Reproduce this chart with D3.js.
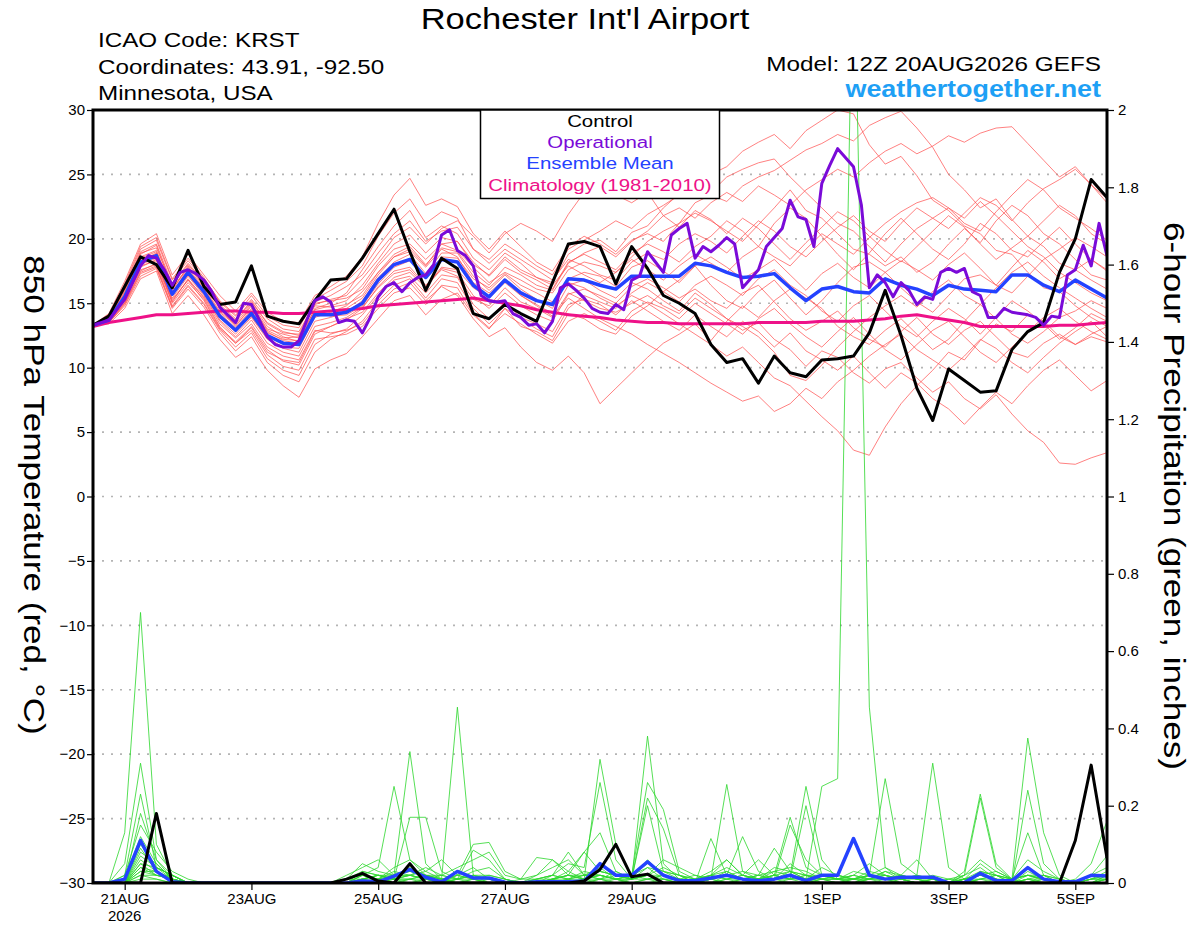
<!DOCTYPE html>
<html>
<head>
<meta charset="utf-8">
<script src="https://cdn.jsdelivr.net/npm/d3@7"></script>
<style>
  body { margin: 0; background: #fff; }
  text { font-family: "Liberation Sans", Arial, Helvetica, sans-serif; }
</style>
</head>
<body>
<svg id="chart" width="1200" height="927"></svg>
<script>
// run start and axis labels
const runStart = Date.UTC(2026, 7, 20, 12);
const tickDates = ["2026-08-21", "2026-08-23", "2026-08-25", "2026-08-27", "2026-08-29", "2026-09-01", "2026-09-03", "2026-09-05"];
const tempTicks = [-30, -25, -20, -15, -10, -5, 0, 5, 10, 15, 20, 25, 30];
const precipTicks = [0, 0.2, 0.4, 0.6, 0.8, 1, 1.2, 1.4, 1.6, 1.8, 2];

// 850 hPa temperature, 6-hourly (65 steps)
const controlTemp = [
  13.3, 14.0, 16.3, 18.6, 18.0, 16.2, 19.1, 16.3, 14.9, 15.1, 17.9, 14.0, 13.6,
  13.4, 15.2, 16.8, 16.9, 18.5, 20.4, 22.3, 19.0, 16.0, 18.5, 17.7, 14.2, 13.8,
  14.9, 14.2, 13.6, 16.6, 19.6, 19.8, 19.4, 16.5, 19.4, 17.7, 15.6, 15.0, 14.2,
  11.8, 10.4, 10.7, 8.8, 10.9, 9.6, 9.3, 10.6, 10.7, 10.9, 12.7, 16.0, 12.5,
  8.4, 5.9, 9.9, 9.0, 8.1, 8.2, 11.4, 12.8, 13.5, 17.4, 20.0, 24.6, 23.2
];
const meanTemp = [
  13.3, 13.7, 15.5, 18.2, 18.7, 15.7, 17.4, 15.9, 14.0, 12.9, 14.2, 12.5, 11.9,
  11.8, 14.1, 14.1, 14.3, 15.0, 16.8, 18.0, 18.4, 17.0, 18.4, 18.2, 16.4, 15.5,
  16.8, 15.8, 15.2, 14.9, 16.9, 16.8, 16.4, 16.1, 17.1, 17.1, 17.1, 17.1, 18.1,
  17.9, 17.4, 17.0, 17.1, 17.3, 16.2, 15.2, 16.1, 16.3, 15.9, 15.8, 16.9, 16.4,
  16.1, 15.6, 16.4, 16.1, 16.0, 15.9, 17.2, 17.2, 16.4, 15.9, 16.8, 16.1, 15.4
];
const climoTemp = [
  13.2, 13.5, 13.7, 13.9, 14.1, 14.1, 14.2, 14.3, 14.4, 14.4, 14.3, 14.3, 14.2,
  14.2, 14.3, 14.4, 14.5, 14.6, 14.8, 14.9, 15.0, 15.1, 15.2, 15.3, 15.4, 15.2,
  15.0, 14.8, 14.5, 14.3, 14.1, 14.0, 13.9, 13.7, 13.6, 13.5, 13.5, 13.4, 13.4,
  13.4, 13.4, 13.4, 13.5, 13.5, 13.5, 13.5, 13.6, 13.6, 13.6, 13.7, 13.8, 14.0,
  14.1, 13.9, 13.7, 13.5, 13.2, 13.2, 13.2, 13.2, 13.2, 13.3, 13.3, 13.4, 13.5
];
// operational run, 3-hourly (129 steps)
const operTemp = [
  13.3, 13.5, 13.7, 14.5, 15.3, 16.6, 17.9, 18.7, 18.5, 17.6, 16.4, 17.4, 17.6,
  17.3, 16.8, 15.9, 14.7, 14.1, 13.5, 15.0, 14.9, 13.7, 12.4, 11.8, 11.6, 11.6,
  12.1, 13.7, 15.2, 15.5, 15.1, 13.5, 13.7, 13.6, 12.7, 13.9, 15.5, 16.3, 16.6,
  15.9, 16.6, 17.0, 17.2, 18.0, 20.3, 20.7, 19.1, 18.7, 17.9, 15.6, 15.2, 15.1,
  15.2, 14.2, 13.9, 13.3, 13.4, 12.7, 13.6, 16.2, 16.5, 16.0, 15.4, 14.6, 14.3,
  14.2, 14.9, 14.5, 16.8, 17.1, 19.0, 18.2, 17.4, 20.3, 20.8, 21.2, 18.5, 19.4,
  19.0, 19.5, 20.1, 19.6, 16.2, 16.9, 17.6, 19.4, 20.1, 20.8, 23.0, 21.7, 21.5,
  19.4, 24.3, 25.7, 27.0, 26.3, 25.6, 22.6, 16.2, 17.2, 16.6, 15.5, 16.6, 16.0,
  14.9, 15.5, 15.3, 17.4, 17.7, 17.4, 17.7, 15.9, 15.6, 13.9, 13.9, 14.6, 14.3,
  14.2, 14.1, 13.9, 13.3, 14.0, 13.9, 17.2, 17.6, 19.5, 17.9, 21.2, 18.7
];
// ensemble members, 6-hourly
const memberTemps = [
  [13.3, 13.9, 16.0, 18.8, 19.5, 16.2, 17.8, 16.5, 14.8, 13.6, 15.0, 13.2, 12.4,
   12.0, 14.6, 15.0, 15.8, 17.6, 19.4, 21.0, 22.2, 20.1, 21.0, 20.4, 18.5, 17.6,
   18.9, 18.1, 17.0, 16.6, 18.8, 19.6, 19.9, 19.0, 20.5, 21.0, 22.4, 23.5, 24.3,
   25.0, 25.6, 26.8, 27.5, 28.1, 27.0, 28.4, 29.2, 30.0, 29.7, 27.3, 25.8, 26.4,
   24.9, 23.0, 22.2, 21.0, 20.4, 19.1, 18.8, 17.4, 16.2, 15.9, 14.8, 13.9, 13.2],
  [13.3, 13.6, 15.1, 17.8, 18.4, 15.0, 16.6, 15.3, 13.2, 11.9, 13.1, 11.2, 10.6,
   10.4, 12.8, 13.2, 13.7, 14.6, 16.3, 17.5, 17.8, 16.4, 17.6, 17.1, 15.3, 14.8,
   16.2, 15.1, 14.6, 13.9, 15.8, 15.2, 14.6, 14.3, 15.0, 15.6, 14.8, 14.2, 15.4,
   14.6, 13.8, 12.9, 13.5, 12.2, 11.4, 10.1, 11.3, 10.8, 9.6, 8.8, 9.9, 10.4,
   9.2, 8.1, 8.9, 7.6, 6.8, 7.9, 6.4, 5.1, 4.2, 2.6, 2.5, 3.0, 3.4],
  [13.3, 14.1, 16.4, 19.2, 19.9, 16.8, 18.3, 16.9, 15.2, 14.1, 15.3, 13.8, 13.0,
   12.8, 15.0, 15.2, 15.4, 16.1, 17.9, 19.2, 19.6, 18.4, 19.6, 19.1, 17.8, 16.6,
   17.4, 16.8, 16.1, 15.8, 17.6, 18.2, 17.9, 17.4, 18.6, 19.8, 20.6, 21.2, 22.8,
   23.4, 22.9, 24.1, 24.8, 25.3, 26.1, 26.9, 27.4, 28.1, 27.6, 28.8, 29.4, 29.9,
   28.6, 27.1, 25.0, 23.8, 22.4, 23.1, 21.5, 20.2, 19.4, 18.1, 17.6, 16.8, 16.1],
  [13.3, 13.4, 14.6, 16.9, 17.5, 14.2, 15.6, 14.1, 12.2, 10.8, 11.6, 9.8, 8.6,
   7.7, 9.9, 10.6, 11.1, 12.4, 13.8, 15.2, 15.6, 14.1, 15.3, 15.8, 14.1, 13.0,
   14.6, 13.2, 12.8, 12.1, 14.2, 13.8, 13.0, 12.6, 14.0, 14.8, 15.9, 16.8, 17.9,
   16.4, 15.2, 14.6, 15.9, 16.8, 15.4, 14.1, 15.2, 16.6, 17.8, 18.2, 17.4, 16.2,
   15.1, 14.3, 15.6, 16.9, 17.2, 16.4, 15.8, 17.1, 18.4, 19.2, 20.1, 19.4, 18.6],
  [13.3, 14.2, 16.7, 19.6, 20.4, 17.2, 18.8, 17.2, 15.6, 14.4, 15.8, 14.3, 13.6,
   13.5, 15.6, 16.3, 17.1, 18.6, 21.2, 23.4, 24.7, 22.6, 23.1, 22.5, 20.4, 19.2,
   20.6, 19.4, 18.2, 17.5, 19.4, 20.2, 19.6, 18.8, 19.9, 20.4, 19.8, 21.2, 22.0,
   21.4, 20.6, 19.8, 21.1, 22.4, 23.8, 22.2, 21.6, 20.4, 19.2, 18.8, 17.9, 18.6,
   17.4, 18.2, 19.6, 20.8, 19.7, 21.4, 22.6, 21.8, 20.4, 19.6, 18.4, 17.2, 16.8],
  [13.3, 13.7, 15.2, 17.6, 18.0, 15.1, 16.9, 15.4, 13.4, 12.3, 13.4, 11.6, 10.9,
   10.6, 12.9, 12.7, 12.9, 13.4, 14.9, 16.1, 16.6, 15.2, 16.3, 15.6, 13.8, 12.4,
   13.1, 11.6, 10.4, 9.8, 10.9, 9.6, 7.2, 8.4, 9.6, 10.8, 11.9, 12.6, 13.4,
   12.1, 13.6, 14.8, 13.9, 15.2, 16.1, 15.4, 14.6, 13.2, 12.4, 11.8, 12.9, 13.8,
   12.6, 11.4, 12.2, 13.6, 14.9, 13.8, 12.6, 11.9, 12.8, 13.9, 14.4, 15.2, 14.6],
  [13.3, 13.8, 15.6, 18.3, 18.9, 15.9, 17.6, 16.1, 14.3, 13.3, 14.6, 12.8, 12.1,
   11.9, 14.4, 14.0, 14.1, 14.8, 16.5, 17.8, 18.3, 17.1, 18.6, 18.5, 16.9, 16.2,
   17.3, 16.4, 15.8, 15.1, 16.6, 16.2, 15.4, 14.8, 15.6, 15.0, 14.2, 13.4, 12.6,
   11.8, 10.9, 11.6, 10.4, 9.2, 8.6, 7.4, 6.2, 5.1, 3.6, 3.2, 5.4, 7.2,
   8.6, 9.8, 11.2, 10.6, 12.1, 13.4, 12.8, 14.1, 13.6, 12.4, 11.8, 12.6, 13.2],
  [13.3, 13.9, 15.9, 18.6, 19.1, 16.0, 17.9, 16.3, 14.6, 13.2, 14.8, 12.9, 12.3,
   12.4, 14.9, 15.3, 15.6, 16.9, 18.4, 20.1, 20.9, 19.6, 20.8, 21.4, 20.2, 18.9,
   20.4, 21.2, 20.6, 19.8, 21.9, 23.6, 24.2, 23.4, 22.8, 23.6, 21.8, 20.9, 22.2,
   21.5, 20.4, 21.6, 20.8, 19.6, 18.4, 19.7, 20.9, 22.1, 21.4, 20.2, 19.1, 18.2,
   19.4, 20.6, 21.8, 20.9, 19.6, 18.4, 19.3, 20.2, 21.4, 22.6, 21.8, 20.4, 19.6],
  [13.3, 13.6, 15.3, 18.0, 18.5, 15.4, 17.1, 15.6, 13.7, 12.6, 13.9, 12.2, 11.5,
   11.2, 13.6, 13.9, 14.3, 15.2, 17.0, 18.2, 18.8, 17.3, 18.9, 18.9, 17.1, 16.0,
   17.2, 16.1, 15.3, 14.6, 16.9, 17.4, 17.1, 16.3, 17.8, 18.3, 17.5, 16.6, 17.9,
   18.6, 17.8, 16.9, 17.6, 18.4, 17.2, 16.0, 17.3, 18.1, 17.0, 16.2, 17.4, 18.3,
   17.6, 16.8, 18.0, 18.9, 17.7, 16.4, 17.8, 19.1, 18.2, 16.9, 17.6, 18.4, 17.5],
  [13.3, 13.5, 14.9, 17.3, 17.8, 14.7, 16.3, 14.9, 12.9, 11.6, 12.7, 10.7, 9.8,
   9.4, 11.8, 12.6, 13.0, 14.1, 15.6, 16.8, 17.1, 15.8, 17.2, 17.0, 14.9, 13.8,
   15.1, 13.9, 13.4, 12.8, 14.9, 15.3, 14.9, 14.1, 15.2, 14.4, 13.6, 12.9, 14.1,
   13.2, 12.4, 13.6, 12.8, 11.6, 12.7, 11.3, 10.6, 9.8, 10.9, 9.6, 8.4, 9.6,
   8.8, 7.6, 6.8, 5.6, 6.9, 8.1, 7.2, 8.6, 9.8, 10.6, 9.4, 8.2, 9.0],
  [13.3, 14.0, 16.2, 19.0, 19.6, 16.5, 18.1, 16.7, 14.9, 13.8, 15.1, 13.5, 12.8,
   12.5, 14.8, 14.7, 14.9, 15.6, 17.4, 18.8, 19.4, 18.0, 19.3, 19.0, 17.4, 16.4,
   17.8, 17.2, 16.4, 16.0, 18.1, 18.9, 19.4, 18.6, 19.8, 20.6, 21.8, 22.4, 21.6,
   22.8, 23.6, 22.9, 24.1, 23.4, 22.6, 23.8, 24.6, 25.4, 24.8, 25.9, 26.8, 27.4,
   26.6, 27.2, 28.0, 27.5, 28.2, 28.6, 28.7, 27.4, 26.1, 24.8, 25.6, 24.2, 23.1],
  [13.3, 13.7, 15.4, 18.1, 18.6, 15.6, 17.2, 15.7, 13.9, 12.8, 14.0, 12.3, 11.6,
   11.5, 13.9, 14.3, 14.8, 15.9, 17.4, 18.6, 19.0, 17.8, 19.2, 18.6, 16.6, 15.8,
   16.9, 15.6, 14.9, 14.2, 16.4, 16.8, 16.0, 15.4, 16.6, 16.1, 15.2, 14.4, 15.8,
   14.9, 13.8, 13.2, 12.4, 11.2, 9.4, 9.0, 10.2, 11.6, 12.8, 13.9, 14.8, 15.6,
   14.7, 15.9, 16.8, 15.6, 14.9, 16.2, 17.4, 18.2, 17.1, 16.2, 15.4, 14.6, 13.9],
  [13.3, 14.0, 16.1, 18.9, 19.3, 16.4, 18.0, 16.6, 14.7, 13.7, 15.2, 13.4, 12.7,
   12.6, 15.1, 15.6, 16.3, 17.2, 18.9, 20.4, 21.4, 19.8, 20.6, 20.9, 19.2, 18.4,
   19.6, 18.8, 17.9, 17.2, 19.2, 19.9, 20.6, 21.4, 20.8, 21.9, 22.6, 23.4, 24.2,
   23.6, 24.8, 25.4, 25.9, 26.2, 24.8, 23.6, 22.4, 21.2, 20.6, 19.4, 18.2, 19.6,
   20.8, 21.6, 22.4, 21.2, 20.6, 22.1, 23.4, 24.6, 23.8, 22.4, 21.6, 20.8, 19.9],
  [13.3, 13.5, 15.0, 17.5, 18.1, 15.3, 16.8, 15.2, 13.1, 12.0, 13.2, 11.4, 10.5,
   10.2, 12.6, 13.2, 13.8, 14.3, 15.8, 17.0, 17.4, 16.2, 17.7, 17.4, 15.6, 14.6,
   15.8, 14.8, 14.1, 13.6, 15.7, 16.1, 15.6, 15.0, 16.3, 16.9, 16.2, 15.4, 16.1,
   15.2, 14.6, 15.8, 16.4, 15.1, 13.8, 12.9, 13.6, 14.4, 13.1, 12.2, 11.6, 12.8,
   13.9, 12.6, 11.8, 12.9, 13.6, 12.4, 11.2, 10.8, 11.9, 12.6, 11.8, 12.4, 12.0],
  [13.3, 14.1, 16.5, 19.4, 20.1, 16.9, 18.5, 17.0, 15.1, 14.0, 15.6, 14.0, 13.3,
   13.1, 15.3, 16.0, 16.7, 17.9, 20.2, 22.0, 23.1, 21.2, 22.1, 21.6, 19.2, 18.1,
   19.2, 18.4, 17.6, 16.8, 18.4, 17.9, 17.2, 16.8, 18.2, 18.9, 18.4, 19.6, 20.4,
   19.8, 18.9, 20.2, 21.4, 20.6, 19.4, 18.6, 19.8, 20.9, 21.8, 20.6, 19.8, 21.2,
   22.4, 21.6, 20.8, 22.0, 23.2, 22.6, 21.4, 22.8, 23.9, 24.6, 25.4, 24.2, 22.8],
  [13.3, 13.6, 15.2, 17.9, 18.3, 15.2, 16.8, 15.5, 13.6, 12.4, 13.7, 11.9, 11.2,
   10.9, 13.2, 13.5, 13.9, 14.7, 16.2, 17.3, 17.6, 16.3, 17.8, 17.6, 16.2, 15.4,
   16.6, 15.6, 14.8, 14.0, 15.4, 14.6, 13.8, 13.2, 12.6, 11.8, 11.1, 10.4, 9.6,
   8.8, 8.1, 7.4, 7.8, 6.6, 7.2, 8.4, 7.6, 8.9, 9.8, 10.9, 11.8, 12.6,
   11.4, 10.6, 9.8, 10.9, 12.2, 11.5, 10.4, 9.6, 10.8, 11.9, 12.8, 13.6, 12.4],
  [13.3, 13.8, 15.7, 18.4, 18.8, 15.8, 17.5, 16.0, 14.2, 13.1, 14.5, 12.7, 12.2,
   12.1, 14.3, 14.4, 14.6, 15.4, 17.2, 18.6, 19.2, 17.9, 19.6, 19.8, 18.2, 17.1,
   18.4, 17.4, 16.8, 16.1, 18.2, 18.8, 18.2, 17.6, 18.9, 19.6, 19.0, 18.2, 19.4,
   20.2, 21.4, 20.6, 19.4, 21.2, 22.4, 21.6, 20.2, 18.8, 17.6, 18.9, 20.4, 21.6,
   20.4, 19.2, 18.4, 19.6, 21.2, 20.4, 19.1, 18.6, 19.8, 20.9, 19.6, 18.4, 17.6],
  [13.3, 13.5, 14.8, 17.1, 17.7, 14.6, 16.1, 14.7, 12.7, 11.3, 12.4, 10.4, 9.4,
   8.9, 11.2, 12.2, 12.8, 13.6, 15.2, 16.4, 16.9, 15.4, 16.9, 16.6, 14.6, 13.4,
   14.6, 13.8, 13.0, 12.4, 14.6, 15.6, 15.1, 14.6, 15.8, 16.6, 15.9, 15.1, 16.4,
   17.1, 16.4, 15.6, 16.9, 17.6, 16.4, 15.6, 14.4, 13.6, 14.8, 15.6, 14.4, 13.2,
   12.4, 13.6, 14.6, 13.8, 12.6, 13.9, 15.2, 14.4, 13.4, 12.2, 13.1, 14.2, 13.6],
  [13.3, 13.9, 15.8, 18.5, 19.0, 16.1, 17.7, 16.2, 14.4, 13.4, 14.9, 13.0, 12.6,
   12.3, 14.5, 14.8, 15.2, 16.4, 18.1, 19.6, 20.3, 18.9, 20.1, 19.8, 18.0, 17.2,
   18.6, 17.6, 17.0, 16.4, 17.9, 17.2, 16.6, 17.4, 18.4, 17.6, 16.8, 17.9, 18.8,
   18.1, 17.4, 18.6, 19.4, 18.6, 17.9, 19.2, 20.4, 19.6, 18.8, 20.1, 21.2, 22.1,
   22.8, 23.2, 22.4, 21.6, 22.9, 21.8, 20.6, 19.4, 18.6, 17.4, 16.6, 15.8, 15.2],
  [13.3, 13.6, 15.0, 17.4, 17.9, 14.8, 16.4, 15.0, 13.0, 11.9, 12.9, 11.0, 10.1,
   9.8, 12.2, 12.4, 12.6, 13.2, 14.6, 15.8, 16.2, 14.9, 16.4, 16.2, 14.2, 13.1,
   14.2, 13.4, 12.6, 11.9, 13.6, 14.2, 13.6, 12.9, 14.4, 15.1, 14.6, 13.8, 15.0,
   14.2, 13.4, 12.6, 13.8, 14.6, 13.4, 12.4, 11.6, 12.8, 13.9, 12.6, 11.4, 10.6,
   11.8, 12.9, 13.6, 12.4, 11.2, 10.4, 11.6, 12.8, 13.9, 14.6, 13.6, 12.8, 12.2]
];

// 6-hour precipitation (inches), 6-hourly
const controlPrecip = [
  0, 0, 0, 0, 0.18, 0, 0, 0, 0, 0, 0, 0, 0,
  0, 0, 0, 0.01, 0.025, 0.005, 0, 0.05, 0, 0, 0, 0, 0,
  0, 0, 0, 0, 0, 0.005, 0.035, 0.10, 0.016, 0.023, 0, 0, 0,
  0, 0, 0, 0, 0, 0, 0, 0, 0, 0, 0, 0, 0,
  0, 0, 0, 0, 0, 0, 0, 0, 0, 0, 0.11, 0.305, 0.065
];
const meanPrecip = [
  0, 0, 0.01, 0.11, 0.03, 0.003, 0, 0, 0, 0, 0, 0, 0,
  0, 0, 0, 0, 0.005, 0.003, 0.018, 0.035, 0.015, 0.003, 0.03, 0.013, 0.013,
  0.002, 0, 0.003, 0.003, 0.003, 0.005, 0.05, 0.02, 0.02, 0.055, 0.02, 0.006, 0.006,
  0.013, 0.02, 0.01, 0.006, 0.01, 0.02, 0.006, 0.02, 0.02, 0.115, 0.02, 0.01, 0.015,
  0.015, 0.015, 0, 0.001, 0.025, 0.006, 0.006, 0.04, 0.01, 0.003, 0.003, 0.02, 0.018
];
const memberPrecip = [
  [0, 0, 0.13, 0.70, 0.10, 0.02, 0, 0, 0, 0, 0, 0, 0,
   0, 0, 0, 0.01, 0.05, 0.03, 0.02, 0.34, 0.05, 0.01, 0, 0, 0,
   0, 0, 0.02, 0.06, 0.03, 0.01, 0.32, 0.10, 0.02, 0.04, 0.01, 0, 0,
   0, 0.02, 0.12, 0.03, 0.01, 0.05, 0.02, 0, 0, 0, 0.01, 0.03, 0.01,
   0, 0, 0, 0.01, 0.05, 0.02, 0, 0, 0.02, 0.01, 0, 0, 0.01],
  [0, 0, 0.05, 0.31, 0.06, 0.01, 0, 0, 0, 0, 0, 0, 0,
   0, 0, 0, 0, 0.02, 0.04, 0.25, 0.06, 0.02, 0, 0.02, 0.04, 0.01,
   0, 0, 0, 0.01, 0.03, 0.08, 0.13, 0.03, 0.01, 0.06, 0.02, 0.01, 0,
   0.02, 0.06, 0.02, 0.01, 0.04, 0.03, 0.01, 0.25, 0.27, 2.5, 0.455, 0.04, 0.02,
   0.01, 0, 0, 0.02, 0.04, 0.01, 0, 0.03, 0.01, 0, 0, 0, 0],
  [0, 0, 0.02, 0.23, 0.04, 0.01, 0, 0, 0, 0, 0, 0, 0,
   0, 0, 0, 0, 0.03, 0.02, 0.01, 0.17, 0.17, 0.03, 0.01, 0.02, 0.01,
   0, 0, 0.01, 0.02, 0.05, 0.04, 0.26, 0.06, 0.01, 0.02, 0.04, 0.02, 0,
   0.01, 0.255, 0.03, 0.01, 0.02, 0.17, 0.04, 0.02, 0.01, 0, 0.02, 0.04, 0.01,
   0, 0.01, 0, 0.03, 0.23, 0.05, 0.01, 0, 0.01, 0, 0, 0.02, 0.07],
  [0, 0, 0, 0.18, 0.06, 0.02, 0, 0, 0, 0, 0, 0, 0,
   0, 0, 0, 0.02, 0.04, 0.06, 0.02, 0.03, 0.02, 0.01, 0.455, 0.02, 0,
   0, 0, 0, 0.01, 0.02, 0.08, 0.03, 0.02, 0.01, 0.38, 0.05, 0.01, 0,
   0.01, 0.03, 0.01, 0.02, 0.09, 0.03, 0.01, 0.04, 0.02, 0.01, 0.02, 0.27, 0.05,
   0.02, 0.01, 0, 0.01, 0.03, 0.02, 0.01, 0.375, 0.13, 0.02, 0, 0.01, 0.02],
  [0, 0, 0.02, 0.15, 0.08, 0.03, 0.01, 0, 0, 0, 0, 0, 0,
   0, 0, 0, 0, 0.02, 0.01, 0.04, 0.06, 0.03, 0.01, 0.02, 0.10, 0.105,
   0.03, 0.01, 0.02, 0.04, 0.06, 0.02, 0.04, 0.01, 0.02, 0.26, 0.19, 0.03, 0.01,
   0.02, 0.04, 0.02, 0.01, 0.01, 0.15, 0.06, 0.02, 0.01, 0.01, 0.03, 0.02, 0.01,
   0.02, 0.31, 0.04, 0.01, 0.02, 0.01, 0, 0.24, 0.05, 0.01, 0, 0, 0.02],
  [0, 0, 0.01, 0.12, 0.05, 0.01, 0, 0, 0, 0, 0, 0, 0,
   0, 0, 0, 0.01, 0.03, 0.02, 0.02, 0.02, 0.04, 0.02, 0.01, 0.085, 0.06,
   0.01, 0, 0, 0.02, 0.01, 0.03, 0.02, 0.01, 0.01, 0.22, 0.14, 0.02, 0,
   0.115, 0.02, 0.01, 0, 0.01, 0.02, 0.25, 0.06, 0.01, 0.02, 0.05, 0.02, 0,
   0, 0, 0.01, 0.02, 0.22, 0.04, 0.01, 0.02, 0.01, 0, 0.01, 0.05, 0.16],
  [0, 0, 0, 0.10, 0.04, 0.02, 0, 0, 0, 0, 0, 0, 0,
   0, 0, 0, 0, 0.01, 0.02, 0.01, 0.02, 0.03, 0.06, 0.02, 0.01, 0,
   0, 0.01, 0.066, 0.06, 0.02, 0.01, 0.03, 0.02, 0.01, 0.2, 0.03, 0.01, 0,
   0.02, 0.01, 0.02, 0.06, 0.02, 0.01, 0.2, 0.02, 0.01, 0.02, 0.01, 0.03, 0.02,
   0.06, 0.01, 0, 0.01, 0.02, 0.03, 0.01, 0.02, 0.01, 0, 0, 0.01, 0.03],
  [0, 0, 0, 0.09, 0.03, 0.01, 0, 0, 0, 0, 0, 0, 0,
   0, 0, 0, 0.01, 0.02, 0.01, 0.03, 0.02, 0.01, 0, 0.01, 0.02, 0.02,
   0.01, 0, 0.01, 0.02, 0.08, 0.02, 0.02, 0.01, 0.01, 0.04, 0.03, 0.02, 0.01,
   0.03, 0.06, 0.02, 0.01, 0.03, 0.04, 0.03, 0.01, 0.02, 0.01, 0.02, 0.01, 0.02,
   0.01, 0, 0.01, 0, 0.01, 0.02, 0.01, 0.13, 0.02, 0.01, 0, 0, 0.01],
  [0, 0, 0, 0.08, 0.05, 0.01, 0, 0, 0, 0, 0, 0, 0,
   0, 0, 0, 0, 0.01, 0.02, 0.01, 0.02, 0.01, 0.02, 0.04, 0.06, 0.08,
   0.02, 0.01, 0.01, 0.01, 0.02, 0.02, 0.03, 0.02, 0.01, 0.02, 0.06, 0.04, 0.02,
   0.01, 0.02, 0.01, 0.02, 0.01, 0.03, 0.02, 0.01, 0.01, 0.02, 0.01, 0.02, 0.01,
   0, 0, 0, 0.02, 0.06, 0.03, 0.01, 0.06, 0.03, 0.01, 0, 0.02, 0.04],
  [0, 0, 0, 0.07, 0.04, 0.02, 0, 0, 0, 0, 0, 0, 0,
   0, 0, 0, 0, 0.02, 0.01, 0.02, 0.03, 0.02, 0.01, 0.01, 0.03, 0.04,
   0.01, 0, 0, 0.01, 0.02, 0.01, 0.02, 0.01, 0.02, 0.05, 0.03, 0.02, 0.01,
   0.02, 0.03, 0.01, 0.01, 0.02, 0.01, 0.02, 0.02, 0.01, 0.03, 0.02, 0.01, 0.02,
   0.01, 0.02, 0.01, 0.01, 0.02, 0.01, 0.01, 0.02, 0.02, 0, 0, 0.01, 0.02],
  [0, 0, 0, 0.06, 0.03, 0.01, 0, 0, 0, 0, 0, 0, 0,
   0, 0, 0, 0.01, 0.01, 0.02, 0.01, 0.04, 0.02, 0.02, 0.01, 0.02, 0.01,
   0, 0, 0.01, 0.02, 0.01, 0.02, 0.01, 0.03, 0.01, 0.02, 0.02, 0.01, 0.02,
   0.01, 0.02, 0.03, 0.02, 0.03, 0.02, 0.01, 0.02, 0.01, 0.01, 0.02, 0.02, 0.01,
   0.02, 0.01, 0, 0, 0.03, 0.02, 0.01, 0.02, 0.01, 0, 0, 0.01, 0.01],
  [0, 0, 0, 0.05, 0.04, 0.02, 0, 0, 0, 0, 0, 0, 0,
   0, 0, 0, 0, 0.01, 0.01, 0.02, 0.02, 0.01, 0.01, 0.02, 0.01, 0.02,
   0.01, 0, 0, 0.01, 0.01, 0.01, 0.02, 0.01, 0.02, 0.01, 0.02, 0.01, 0.01,
   0.02, 0.01, 0.01, 0.02, 0.01, 0.02, 0.01, 0.01, 0.02, 0.01, 0.01, 0.01, 0.02,
   0.01, 0.01, 0, 0.01, 0.02, 0.01, 0, 0.01, 0.02, 0, 0, 0.01, 0.01],
  [0, 0, 0, 0.05, 0.02, 0.01, 0, 0, 0, 0, 0, 0, 0,
   0, 0, 0, 0, 0.01, 0.02, 0.01, 0.01, 0.02, 0.01, 0, 0.01, 0.01,
   0, 0, 0, 0.01, 0.02, 0.01, 0.01, 0.02, 0.01, 0.02, 0.01, 0.01, 0,
   0.01, 0.02, 0.01, 0.01, 0.02, 0.03, 0.02, 0.01, 0.01, 0.01, 0.02, 0.01, 0.01,
   0, 0.01, 0, 0.01, 0.01, 0.02, 0, 0.02, 0.01, 0, 0, 0, 0.02],
  [0, 0, 0, 0.04, 0.03, 0.01, 0, 0, 0, 0, 0, 0, 0,
   0, 0, 0, 0, 0, 0.01, 0.01, 0.02, 0.01, 0, 0.01, 0.01, 0,
   0, 0, 0, 0, 0.01, 0.02, 0.01, 0.01, 0, 0.01, 0.02, 0.01, 0,
   0, 0.01, 0.02, 0.01, 0.01, 0.01, 0.02, 0.01, 0, 0.01, 0.01, 0.02, 0.01,
   0.01, 0, 0, 0, 0.01, 0.01, 0, 0.01, 0.01, 0, 0, 0, 0.01],
  [0, 0, 0, 0.04, 0.02, 0.02, 0, 0, 0, 0, 0, 0, 0,
   0, 0, 0, 0, 0.01, 0, 0.01, 0.01, 0.02, 0.01, 0, 0, 0.01,
   0, 0, 0, 0.01, 0, 0.01, 0.02, 0.01, 0, 0.01, 0.01, 0, 0,
   0.01, 0, 0.01, 0.01, 0.02, 0.01, 0, 0.01, 0.01, 0, 0.01, 0.01, 0,
   0, 0.01, 0, 0.01, 0, 0.01, 0, 0.01, 0, 0, 0, 0, 0.01],
  [0, 0, 0, 0.03, 0.02, 0.01, 0, 0, 0, 0, 0, 0, 0,
   0, 0, 0, 0, 0, 0.01, 0, 0.01, 0.01, 0, 0.01, 0, 0,
   0, 0, 0, 0, 0.01, 0, 0.01, 0, 0.01, 0.01, 0, 0, 0,
   0, 0.01, 0, 0.01, 0, 0.01, 0.01, 0, 0, 0.01, 0, 0, 0.01,
   0, 0, 0, 0, 0.01, 0, 0, 0.01, 0, 0, 0, 0, 0],
  [0, 0, 0, 0.03, 0.03, 0.01, 0, 0, 0, 0, 0, 0, 0,
   0, 0, 0, 0, 0.01, 0, 0.01, 0, 0.01, 0.01, 0, 0, 0,
   0, 0, 0, 0, 0, 0.01, 0, 0.01, 0, 0, 0.01, 0, 0,
   0.01, 0, 0.01, 0, 0.01, 0, 0, 0.01, 0, 0, 0.01, 0, 0,
   0, 0, 0, 0.01, 0, 0, 0, 0, 0.01, 0, 0, 0, 0],
  [0, 0, 0, 0.02, 0.02, 0.01, 0, 0, 0, 0, 0, 0, 0,
   0, 0, 0, 0, 0, 0, 0, 0.01, 0, 0, 0, 0.01, 0,
   0, 0, 0, 0, 0, 0, 0.01, 0, 0, 0, 0, 0, 0,
   0, 0, 0, 0.01, 0, 0, 0, 0, 0, 0, 0, 0.01, 0,
   0, 0, 0, 0, 0, 0, 0, 0, 0, 0, 0, 0, 0],
  [0, 0, 0, 0.02, 0.01, 0, 0, 0, 0, 0, 0, 0, 0,
   0, 0, 0, 0, 0, 0, 0, 0, 0.01, 0, 0, 0, 0,
   0, 0, 0, 0, 0, 0, 0, 0, 0, 0, 0, 0, 0,
   0, 0, 0, 0, 0, 0, 0, 0, 0, 0, 0, 0, 0,
   0, 0, 0, 0, 0, 0, 0, 0, 0, 0, 0, 0, 0],
  [0, 0, 0, 0.01, 0.01, 0, 0, 0, 0, 0, 0, 0, 0,
   0, 0, 0, 0, 0, 0, 0, 0, 0, 0, 0, 0, 0,
   0, 0, 0, 0, 0, 0, 0, 0, 0, 0, 0, 0, 0,
   0, 0, 0, 0, 0, 0, 0, 0, 0, 0, 0, 0, 0,
   0, 0, 0, 0, 0, 0, 0, 0, 0, 0, 0, 0, 0]
];

const plot = { left: 93, right: 1107, top: 110, bottom: 883 };
const HOUR = 3600e3;

const svg = d3.select("#chart");

const x = d3.scaleUtc()
  .domain([new Date(runStart), new Date(runStart + 384 * HOUR)])
  .range([plot.left, plot.right]);
const yT = d3.scaleLinear().domain([-30, 30]).range([plot.bottom, plot.top]);
const yP = d3.scaleLinear().domain([0, 2]).range([plot.bottom, plot.top]);

const at6 = (i) => new Date(runStart + i * 6 * HOUR);
const at3 = (j) => new Date(runStart + j * 3 * HOUR);

svg.append("defs").append("clipPath").attr("id", "plotclip")
  .append("rect")
  .attr("x", plot.left).attr("y", plot.top)
  .attr("width", plot.right - plot.left).attr("height", plot.bottom - plot.top);

// dotted grid on the temperature ticks
svg.append("g")
  .selectAll("line")
  .data(tempTicks.filter((d) => d > -30 && d < 30))
  .join("line")
  .attr("x1", plot.left).attr("x2", plot.right)
  .attr("y1", (d) => yT(d)).attr("y2", (d) => yT(d))
  .attr("stroke", "#b4b4b4")
  .attr("stroke-width", 1.6)
  .attr("stroke-dasharray", "2,7");

const lines = svg.append("g").attr("clip-path", "url(#plotclip)");

const line6T = d3.line().x((d, i) => x(at6(i))).y((d) => yT(d));
const line3T = d3.line().x((d, i) => x(at3(i))).y((d) => yT(d));
const line6P = d3.line().x((d, i) => x(at6(i))).y((d) => yP(d));

// members: temperature then precipitation
lines.append("g")
  .selectAll("path")
  .data(memberTemps)
  .join("path")
  .attr("d", line6T)
  .attr("fill", "none")
  .attr("stroke", "#ff5050")
  .attr("stroke-opacity", 0.8)
  .attr("stroke-width", 0.9);

lines.append("g")
  .selectAll("path")
  .data(memberPrecip)
  .join("path")
  .attr("d", line6P)
  .attr("fill", "none")
  .attr("stroke", "#2ed82e")
  .attr("stroke-opacity", 0.9)
  .attr("stroke-width", 0.9);

// climatology, mean, control, operational
const addLine = (gen, data, color, width) =>
  lines.append("path")
    .attr("d", gen(data))
    .attr("fill", "none")
    .attr("stroke", color)
    .attr("stroke-width", width)
    .attr("stroke-linejoin", "round");

addLine(line6T, climoTemp, "#ee1188", 3);
addLine(line6P, meanPrecip, "#2442ff", 3.5);
addLine(line6P, controlPrecip, "#000", 3);
addLine(line6T, meanTemp, "#2442ff", 3.5);
addLine(line6T, controlTemp, "#000", 3);
addLine(line3T, operTemp, "#7a0ad8", 3);

// frame
svg.append("rect")
  .attr("x", plot.left).attr("y", plot.top)
  .attr("width", plot.right - plot.left).attr("height", plot.bottom - plot.top)
  .attr("fill", "none").attr("stroke", "#000").attr("stroke-width", 3);

// axes
const styleAxis = (g) => {
  g.select(".domain").remove();
  g.selectAll(".tick line").attr("stroke", "#000").attr("stroke-width", 1.2);
  g.selectAll(".tick text").attr("font-size", 15).attr("fill", "#000")
    .attr("font-family", '"Liberation Sans", Arial, sans-serif');
};

svg.append("g")
  .attr("transform", `translate(${plot.left - 1},0)`)
  .call(d3.axisLeft(yT).tickValues(tempTicks).tickSize(5).tickPadding(2))
  .call(styleAxis);

svg.append("g")
  .attr("transform", `translate(${plot.right + 1},0)`)
  .call(d3.axisRight(yP).tickValues(precipTicks).tickSize(6).tickPadding(4)
    .tickFormat((d) => String(+d.toFixed(1))))
  .call(styleAxis);

const fmtDay = d3.utcFormat("%-d%b");
svg.append("g")
  .attr("transform", `translate(0,${plot.bottom + 1})`)
  .call(d3.axisBottom(x)
    .tickValues(tickDates.map((s) => new Date(s + "T00:00:00Z")))
    .tickSize(6).tickPadding(3)
    .tickFormat((d) => fmtDay(d).toUpperCase()))
  .call(styleAxis);

svg.append("text")
  .attr("x", x(new Date(tickDates[0] + "T00:00:00Z")))
  .attr("y", 921)
  .attr("text-anchor", "middle")
  .attr("font-size", 15)
  .text("2026");

// the source font is wider than Liberation Sans, so header text gets a horizontal stretch
const wideText = (parent, str, px, py, size, sx, anchor, rot) =>
  parent.append("text")
    .attr("transform", `translate(${px},${py}) rotate(${rot || 0}) scale(${sx},1)`)
    .attr("text-anchor", anchor || "start")
    .attr("font-size", size)
    .text(str);

wideText(svg, "Rochester Int'l Airport", 585, 29, 29, 1.19, "middle");

const info = ["ICAO Code: KRST", "Coordinates: 43.91, -92.50", "Minnesota, USA"];
info.forEach((s, i) => wideText(svg, s, 98, 47 + i * 26.5, 20.5, 1.18));

wideText(svg, "Model: 12Z 20AUG2026 GEFS", 1101, 71, 20.5, 1.185, "end");
wideText(svg, "weathertogether.net", 1101, 97, 23, 1.17, "end")
  .attr("font-weight", "bold")
  .attr("fill", "#1ea0f5");

wideText(svg, "850 hPa Temperature (red, °C)", 24, 495, 29, 1.21, "middle", 90);
wideText(svg, "6-hour Precipitation (green, inches)", 1164, 496, 29, 1.21, "middle", 90);

// legend
const legendItems = [
  { label: "Control", color: "#000" },
  { label: "Operational", color: "#7a0ad8" },
  { label: "Ensemble Mean", color: "#2442ff" },
  { label: "Climatology (1981-2010)", color: "#ee1188" }
];
const legend = svg.append("g");
legend.append("rect")
  .attr("x", 480.5).attr("y", plot.top)
  .attr("width", 239).attr("height", 88.5)
  .attr("fill", "#fff").attr("stroke", "#000").attr("stroke-width", 1.5);
legendItems.forEach((d, i) =>
  wideText(legend, d.label, 600, 127 + i * 21.2, 17, 1.2, "middle").attr("fill", d.color));
</script>
</body>
</html>
